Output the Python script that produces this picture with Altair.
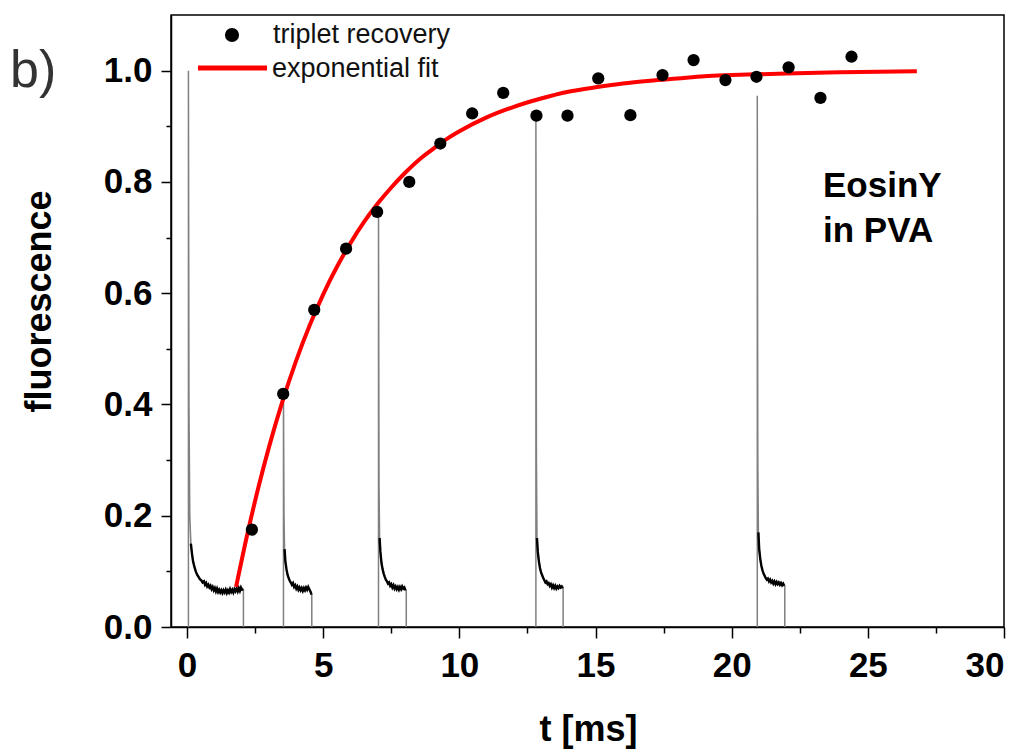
import altair as alt
import pandas as pd

# ---------------- data ----------------
# triplet recovery (filled circles)
rec_t = [2.38, 3.53, 4.67, 5.84, 6.98, 8.16, 9.30, 10.47, 11.61, 12.83,
         13.97, 15.10, 16.28, 17.46, 18.60, 19.77, 20.91, 22.09, 23.26, 24.40]
rec_y = [0.175, 0.419, 0.570, 0.680, 0.746, 0.800, 0.869, 0.923, 0.960, 0.919,
         0.919, 0.986, 0.920, 0.992, 1.019, 0.983, 0.989, 1.006, 0.951, 1.025]

# exponential fit (red curve)
fit_t = [1.8, 2.2, 2.6, 3.0, 3.5, 4.0, 4.5, 5.0, 5.5, 6.0, 6.5, 7.0, 7.5, 8.0,
         8.5, 9.0, 9.5, 10.0, 11.0, 12.0, 13.0, 14.0, 15.0, 16.0, 17.0, 18.0,
         19.0, 20.0, 22.0, 24.0, 26.8]
fit_y = [0.072, 0.164, 0.247, 0.322, 0.405, 0.478, 0.542, 0.598, 0.647, 0.690,
         0.728, 0.761, 0.790, 0.816, 0.839, 0.858, 0.876, 0.891, 0.916, 0.935,
         0.950, 0.962, 0.970, 0.977, 0.982, 0.986, 0.990, 0.992, 0.995, 0.997,
         0.999]

# fluorescence traces (5 excitation windows)
pulse_start = [0.05, 3.54, 7.03, 12.81, 20.94]
pulse_peak = [1.0, 0.42, 0.745, 0.92, 0.955]
pulse_end = [2.07, 4.58, 8.05, 13.81, 21.95]

tail1_t = [0.07, 0.10, 0.14, 0.18, 0.22, 0.27, 0.32, 0.37, 0.42, 0.47, 0.52, 0.57,
           0.62, 0.66, 0.70, 0.74, 0.78, 0.82, 0.86, 0.90, 0.94, 0.98, 1.02, 1.06,
           1.10, 1.14, 1.18, 1.22, 1.26, 1.30, 1.34, 1.38, 1.42, 1.46, 1.50, 1.54,
           1.58, 1.62, 1.66, 1.70, 1.74, 1.78, 1.82, 1.86, 1.90, 1.94, 1.98, 2.02,
           2.06]
tail1_y = [0.40, 0.20, 0.150, 0.132, 0.118, 0.108, 0.100, 0.094, 0.090, 0.086,
           0.084, 0.080, 0.082, 0.076, 0.079, 0.073, 0.076, 0.071, 0.074, 0.068,
           0.072, 0.066, 0.070, 0.064, 0.069, 0.063, 0.067, 0.062, 0.066, 0.061,
           0.066, 0.062, 0.067, 0.061, 0.066, 0.062, 0.068, 0.063, 0.067, 0.062,
           0.068, 0.064, 0.069, 0.064, 0.070, 0.065, 0.071, 0.067, 0.068]

tail2_t = [3.56, 3.58, 3.61, 3.65, 3.69, 3.73, 3.77, 3.81, 3.85, 3.89, 3.93, 3.97,
           4.01, 4.05, 4.09, 4.13, 4.17, 4.21, 4.25, 4.29, 4.33, 4.37, 4.41, 4.45,
           4.49, 4.53, 4.57]
tail2_y = [0.20, 0.140, 0.118, 0.104, 0.094, 0.088, 0.083, 0.080, 0.076, 0.079,
           0.072, 0.075, 0.069, 0.073, 0.067, 0.071, 0.066, 0.070, 0.065, 0.070,
           0.066, 0.071, 0.067, 0.072, 0.068, 0.064, 0.058]

tail3_t = [7.05, 7.07, 7.10, 7.14, 7.18, 7.22, 7.26, 7.30, 7.34, 7.38, 7.42, 7.46,
           7.50, 7.54, 7.58, 7.62, 7.66, 7.70, 7.74, 7.78, 7.82, 7.86, 7.90, 7.94,
           7.98, 8.02]
tail3_y = [0.25, 0.160, 0.135, 0.115, 0.104, 0.096, 0.090, 0.085, 0.082, 0.078,
           0.080, 0.074, 0.077, 0.071, 0.075, 0.069, 0.073, 0.068, 0.072, 0.067,
           0.072, 0.068, 0.073, 0.069, 0.071, 0.066]

tail4_t = [12.83, 12.85, 12.88, 12.92, 12.96, 13.00, 13.04, 13.08, 13.12, 13.16,
           13.20, 13.24, 13.28, 13.32, 13.36, 13.40, 13.44, 13.48, 13.52, 13.56,
           13.60, 13.64, 13.68, 13.72, 13.76, 13.80]
tail4_y = [0.30, 0.160, 0.135, 0.118, 0.106, 0.098, 0.093, 0.088, 0.084, 0.080,
           0.082, 0.077, 0.079, 0.074, 0.077, 0.071, 0.075, 0.070, 0.074, 0.069,
           0.073, 0.070, 0.074, 0.071, 0.073, 0.070]

tail5_t = [20.96, 20.98, 21.01, 21.05, 21.09, 21.13, 21.17, 21.21, 21.25, 21.29,
           21.33, 21.37, 21.41, 21.45, 21.49, 21.53, 21.57, 21.61, 21.65, 21.69,
           21.73, 21.77, 21.81, 21.85, 21.89, 21.93]
tail5_y = [0.30, 0.170, 0.140, 0.122, 0.110, 0.102, 0.096, 0.092, 0.088, 0.085,
           0.087, 0.082, 0.085, 0.080, 0.083, 0.078, 0.082, 0.077, 0.081, 0.077,
           0.080, 0.076, 0.079, 0.075, 0.078, 0.074]

x_ticks = [0, 5, 10, 15, 20, 25, 30]
x_minor = [2.5, 7.5, 12.5, 17.5, 22.5, 27.5]
y_ticks = [0.0, 0.2, 0.4, 0.6, 0.8, 1.0]
y_minor = [0.1, 0.3, 0.5, 0.7, 0.9]

# ---------------- build tables ----------------
rec_df = pd.DataFrame({"t": rec_t, "y": rec_y})
fit_df = pd.DataFrame({"t": fit_t, "y": fit_y})

tails_t = [tail1_t, tail2_t, tail3_t, tail4_t, tail5_t]
tails_y = [tail1_y, tail2_y, tail3_y, tail4_y, tail5_y]
rows = []
for k in range(5):
    i = 0
    rows.append({"pulse": k, "i": i, "t": pulse_start[k], "y": 0.0, "seg": "edge"}); i += 1
    rows.append({"pulse": k, "i": i, "t": pulse_start[k], "y": pulse_peak[k], "seg": "edge"}); i += 1
    for tt, yy in zip(tails_t[k], tails_y[k]):
        rows.append({"pulse": k, "i": i, "t": tt, "y": yy, "seg": "tail"}); i += 1
    rows.append({"pulse": k, "i": i, "t": pulse_end[k], "y": tails_y[k][-1], "seg": "edge"}); i += 1
    rows.append({"pulse": k, "i": i, "t": pulse_end[k], "y": 0.0, "seg": "edge"}); i += 1
trace_df = pd.DataFrame(rows)

# ---------------- scales & axes ----------------
FONT = "Liberation Sans"
xs = alt.Scale(domain=[-0.59, 30], nice=False, zero=False)
ys = alt.Scale(domain=[0, 1.1], nice=False, zero=False)

x_axis = alt.Axis(values=x_ticks, format="d", orient="bottom", grid=False,
                  labelFontSize=35, labelFontWeight="bold", labelPadding=10,
                  tickSize=11, tickWidth=1.5, domainWidth=1.5,
                  title="t [ms]", titleFontSize=36, titleFontWeight="bold",
                  titleX=417, titleY=113, titleBaseline="alphabetic", titleAlign="center")
y_axis = alt.Axis(values=y_ticks, format=".1f", orient="left", grid=False,
                  labelFontSize=35, labelFontWeight="bold", labelPadding=9,
                  tickSize=10, tickWidth=1.5, domainWidth=1.5,
                  title="fluorescence", titleFontSize=36, titleFontWeight="bold",
                  titleAngle=270, titleX=-121, titleY=286,
                  titleBaseline="alphabetic", titleAlign="center")
x_axis_minor = alt.Axis(values=x_minor, orient="bottom", labels=False, domain=False,
                        grid=False, tickSize=6, tickWidth=1.5, title=None)
y_axis_minor = alt.Axis(values=y_minor, orient="left", labels=False, domain=False,
                        grid=False, tickSize=5, tickWidth=1.5, title=None)

traces = alt.Chart(trace_df).mark_line(color="#808080", strokeWidth=1.5).encode(
    x=alt.X("t:Q", scale=xs, axis=x_axis),
    y=alt.Y("y:Q", scale=ys, axis=y_axis),
    detail="pulse:N",
    order="i:Q",
)
tails = alt.Chart(trace_df).transform_filter(
    "datum.seg == 'tail' && datum.y <= 0.17"
).mark_line(color="black", strokeWidth=2.4).encode(
    x=alt.X("t:Q", scale=xs, axis=None),
    y=alt.Y("y:Q", scale=ys, axis=None),
    detail="pulse:N",
    order="i:Q",
)
fit = alt.Chart(fit_df).mark_line(color="#ff0000", strokeWidth=4, interpolate="monotone").encode(
    x=alt.X("t:Q", scale=xs, axis=None),
    y=alt.Y("y:Q", scale=ys, axis=None),
)
points = alt.Chart(rec_df).mark_circle(color="black", size=150, opacity=1).encode(
    x=alt.X("t:Q", scale=xs, axis=None),
    y=alt.Y("y:Q", scale=ys, axis=None),
)
minor = alt.Chart(rec_df).mark_point(opacity=0).encode(
    x=alt.X("t:Q", scale=xs, axis=x_axis_minor),
    y=alt.Y("y:Q", scale=ys, axis=y_axis_minor),
)

one = pd.DataFrame({"a": [0]})
leg_dot = alt.Chart(one).mark_circle(color="black", size=200, opacity=1).encode(
    x=alt.value(61), y=alt.value(20))
leg_line = alt.Chart(one).mark_rule(color="#ff0000", strokeWidth=5).encode(
    x=alt.value(27), x2=alt.value(96), y=alt.value(53))
leg_txt1 = alt.Chart(one).mark_text(text="triplet recovery", font=FONT, fontSize=27,
                                    align="left", baseline="alphabetic", color="#111").encode(
    x=alt.value(102), y=alt.value(28))
leg_txt2 = alt.Chart(one).mark_text(text="exponential fit", font=FONT, fontSize=27,
                                    align="left", baseline="alphabetic", color="#111").encode(
    x=alt.value(101), y=alt.value(62))
anno1 = alt.Chart(one).mark_text(text="EosinY", font=FONT, fontSize=35, fontWeight="bold",
                                 align="left", baseline="alphabetic", color="black").encode(
    x=alt.value(652), y=alt.value(182))
anno2 = alt.Chart(one).mark_text(text="in PVA", font=FONT, fontSize=35, fontWeight="bold",
                                 align="left", baseline="alphabetic", color="black").encode(
    x=alt.value(652), y=alt.value(227))
panel = alt.Chart(one).mark_text(text="b)", font=FONT, fontSize=52,
                                 align="left", baseline="alphabetic", color="#333").encode(
    x=alt.value(-161), y=alt.value(72))

chart = alt.layer(
    traces, tails, fit, points, minor,
    leg_dot, leg_line, leg_txt1, leg_txt2, anno1, anno2, panel,
).resolve_axis(x="independent", y="independent").properties(
    width=833, height=612,
    padding={"left": 171, "top": 15, "right": 23, "bottom": 122},
    autosize=alt.AutoSizeParams(type="none"),
    background="white",
).configure_view(
    stroke="black", strokeWidth=1.5
).configure_axis(
    domainColor="black", tickColor="black", labelColor="black", titleColor="black",
    labelFont=FONT, titleFont=FONT,
)

chart.save("out.html", embed_options={"renderer": "svg", "actions": False})
